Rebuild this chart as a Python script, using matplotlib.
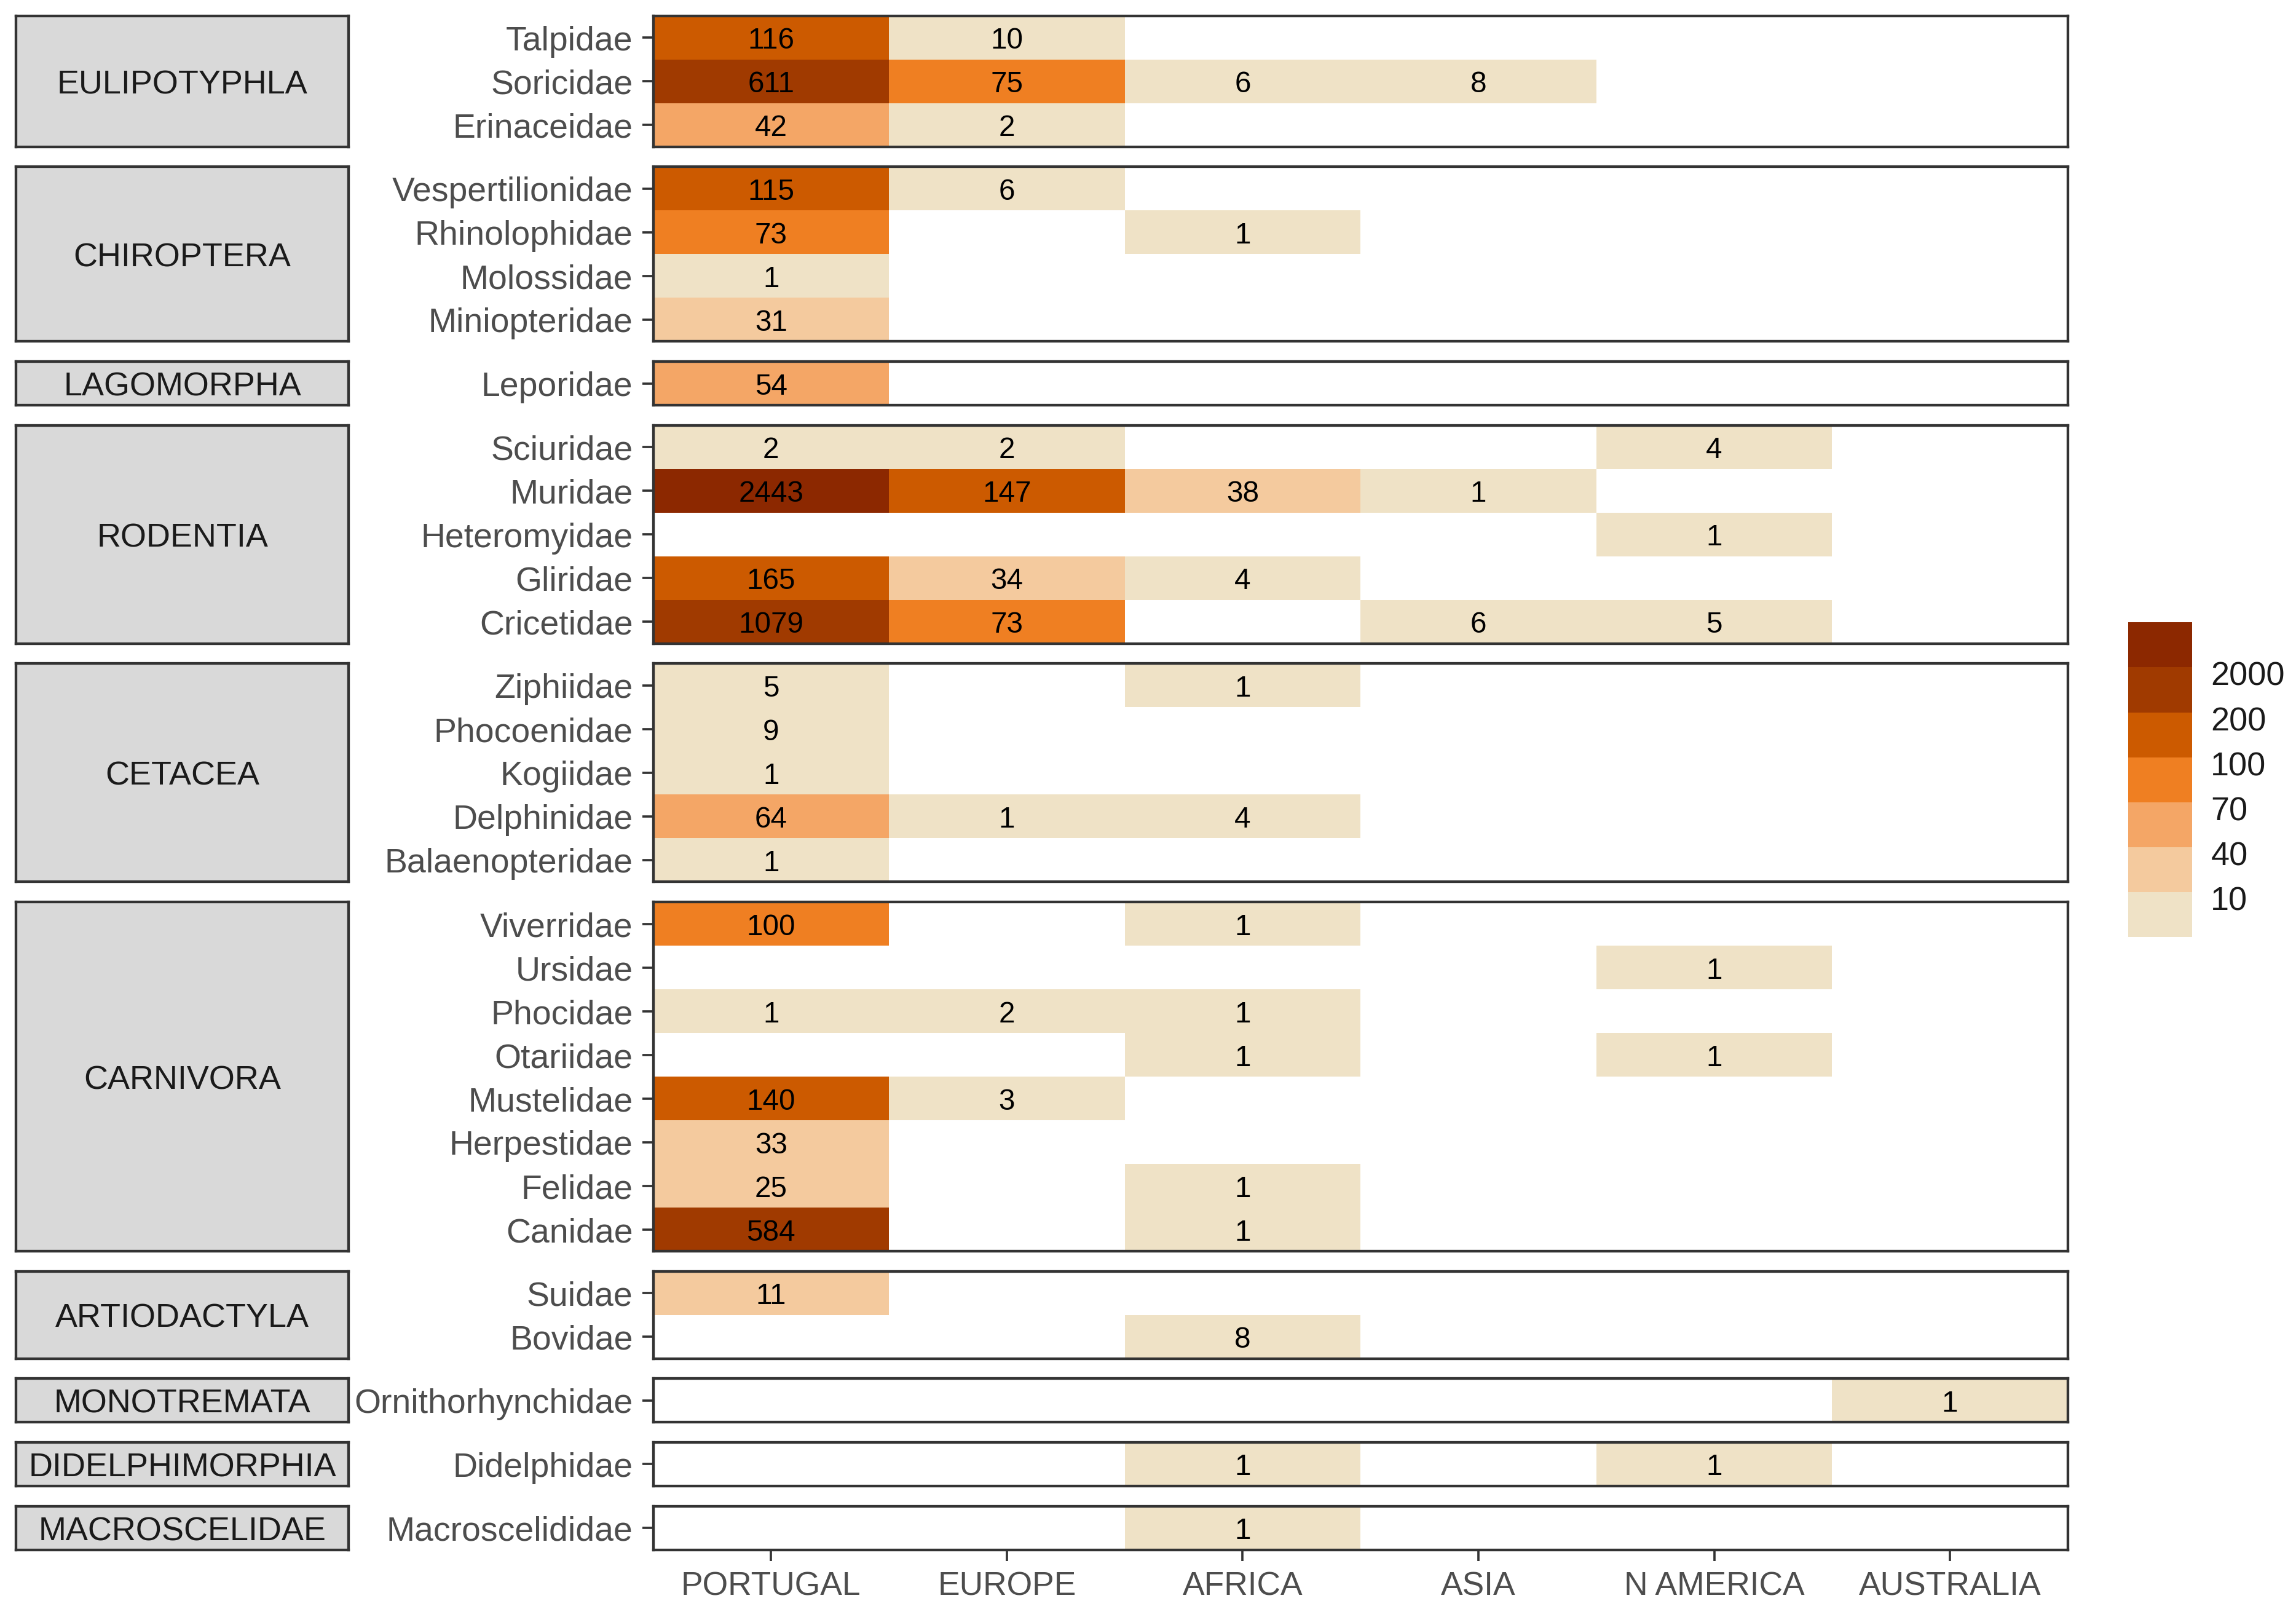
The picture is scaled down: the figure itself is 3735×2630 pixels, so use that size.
import numpy as np
import matplotlib
matplotlib.use("Agg")
import matplotlib.pyplot as plt
from matplotlib.colors import ListedColormap

plt.rcParams["font.family"] = ["Liberation Sans", "DejaVu Sans"]

# ---- data -------------------------------------------------------------
regions = ["PORTUGAL", "EUROPE", "AFRICA", "ASIA", "N AMERICA", "AUSTRALIA"]

orders = ["EULIPOTYPHLA", "CHIROPTERA", "LAGOMORPHA", "RODENTIA", "CETACEA",
          "CARNIVORA", "ARTIODACTYLA", "MONOTREMATA", "DIDELPHIMORPHIA",
          "MACROSCELIDAE"]

order_families = [
    ["Talpidae", "Soricidae", "Erinaceidae"],
    ["Vespertilionidae", "Rhinolophidae", "Molossidae", "Miniopteridae"],
    ["Leporidae"],
    ["Sciuridae", "Muridae", "Heteromyidae", "Gliridae", "Cricetidae"],
    ["Ziphiidae", "Phocoenidae", "Kogiidae", "Delphinidae", "Balaenopteridae"],
    ["Viverridae", "Ursidae", "Phocidae", "Otariidae", "Mustelidae",
     "Herpestidae", "Felidae", "Canidae"],
    ["Suidae", "Bovidae"],
    ["Ornithorhynchidae"],
    ["Didelphidae"],
    ["Macroscelididae"],
]

N = None
# one row per family (same order as above), columns follow `regions`
counts = [
    [116, 10, N, N, N, N],      # Talpidae
    [611, 75, 6, 8, N, N],      # Soricidae
    [42, 2, N, N, N, N],        # Erinaceidae
    [115, 6, N, N, N, N],       # Vespertilionidae
    [73, N, 1, N, N, N],        # Rhinolophidae
    [1, N, N, N, N, N],         # Molossidae
    [31, N, N, N, N, N],        # Miniopteridae
    [54, N, N, N, N, N],        # Leporidae
    [2, 2, N, N, 4, N],         # Sciuridae
    [2443, 147, 38, 1, N, N],   # Muridae
    [N, N, N, N, 1, N],         # Heteromyidae
    [165, 34, 4, N, N, N],      # Gliridae
    [1079, 73, N, 6, 5, N],     # Cricetidae
    [5, N, 1, N, N, N],         # Ziphiidae
    [9, N, N, N, N, N],         # Phocoenidae
    [1, N, N, N, N, N],         # Kogiidae
    [64, 1, 4, N, N, N],        # Delphinidae
    [1, N, N, N, N, N],         # Balaenopteridae
    [100, N, 1, N, N, N],       # Viverridae
    [N, N, N, N, 1, N],         # Ursidae
    [1, 2, 1, N, N, N],         # Phocidae
    [N, N, 1, N, 1, N],         # Otariidae
    [140, 3, N, N, N, N],       # Mustelidae
    [33, N, N, N, N, N],        # Herpestidae
    [25, N, 1, N, N, N],        # Felidae
    [584, N, 1, N, N, N],       # Canidae
    [11, N, N, N, N, N],        # Suidae
    [N, N, 8, N, N, N],         # Bovidae
    [N, N, N, N, N, 1],         # Ornithorhynchidae
    [N, N, 1, N, 1, N],         # Didelphidae
    [N, N, 1, N, N, N],         # Macroscelididae
]

breaks = [10, 40, 70, 100, 200, 2000]
palette = ["#EFE2C6", "#F4CA9E", "#F4A666", "#EF7F22",
           "#CC5A00", "#A03A00", "#8C2800"]

# ---- layout (reference measured on a 1568 x 1104 grid) -----------------
W, H = 1568.0, 1104.0
TOP, ROW, GAP = 11.0, 29.8, 13.7
PX0, PX1 = 446.0, 1412.0
SX0, SX1 = 11.0, 238.0
EDGE = "#333333"

cmap = ListedColormap(palette)
vals = np.array([[np.nan if v is None else v for v in r] for r in counts], dtype=float)
bins = np.digitize(np.nan_to_num(vals, nan=0), breaks, right=True).astype(float)
bins[np.isnan(vals)] = np.nan

fig = plt.figure(figsize=(3735.5 / 240, 2630.5 / 240), dpi=240)


def rect(x0, y0, x1, y1):
    return [x0 / W, 1 - y1 / H, (x1 - x0) / W, (y1 - y0) / H]


y = TOP
start = 0
for k, (order, fams) in enumerate(zip(orders, order_families)):
    n = len(fams)
    y1 = y + n * ROW
    ax = fig.add_axes(rect(PX0, y, PX1, y1))
    block = np.ma.masked_invalid(bins[start:start + n])
    ax.pcolormesh(np.arange(len(regions) + 1), np.arange(n + 1), block,
                  cmap=cmap, vmin=-0.5, vmax=6.5, shading="flat", antialiased=False)
    for i in range(n):
        for j in range(len(regions)):
            v = vals[start + i, j]
            if not np.isnan(v):
                ax.text(j + 0.5, i + 0.5, f"{int(v)}", ha="center",
                        va="center_baseline", fontsize=14.3, color="black")
    ax.set_xlim(0, len(regions))
    ax.set_ylim(n, 0)
    ax.set_yticks(np.arange(n) + 0.5)
    ax.set_yticklabels(fams, va="center_baseline")
    ax.tick_params(axis="y", length=5.4, width=1.1, color=EDGE, pad=4.5,
                   labelsize=16.6, labelcolor="#4D4D4D")
    if k == len(orders) - 1:
        ax.set_xticks(np.arange(len(regions)) + 0.5)
        ax.set_xticklabels(regions)
        ax.tick_params(axis="x", length=5.4, width=1.1, color=EDGE, pad=5,
                       labelsize=16.0, labelcolor="#4D4D4D")
    else:
        ax.set_xticks([])
    for s in ax.spines.values():
        s.set_color(EDGE)
        s.set_linewidth(1.3)

    sax = fig.add_axes(rect(SX0, y, SX1, y1))
    sax.set_facecolor("#D9D9D9")
    sax.set_xticks([])
    sax.set_yticks([])
    for s in sax.spines.values():
        s.set_color(EDGE)
        s.set_linewidth(1.3)
    sax.text(0.5, 0.5, order, ha="center", va="center_baseline", fontsize=16.2,
             color="#1A1A1A", transform=sax.transAxes)

    start += n
    y = y1 + GAP

# ---- colour steps legend ----------------------------------------------
lax = fig.add_axes(rect(1453, 425, 1497, 640))
lax.pcolormesh([0, 1], np.arange(len(palette) + 1),
               np.arange(len(palette)).reshape(-1, 1).astype(float),
               cmap=cmap, vmin=-0.5, vmax=6.5, antialiased=False)
lax.set_xlim(0, 1)
lax.set_ylim(0, len(palette))
lax.set_xticks([])
lax.yaxis.tick_right()
# labels sit a touch below each step boundary, as in the reference
lax.set_yticks(np.arange(1, len(palette)) - 0.13)
lax.set_yticklabels([str(b) for b in breaks], va="center_baseline")
lax.tick_params(axis="y", length=0, pad=9, labelsize=16.2, labelcolor="#1A1A1A")
for s in lax.spines.values():
    s.set_visible(False)

fig.savefig("out.png", dpi=240, facecolor="white")
